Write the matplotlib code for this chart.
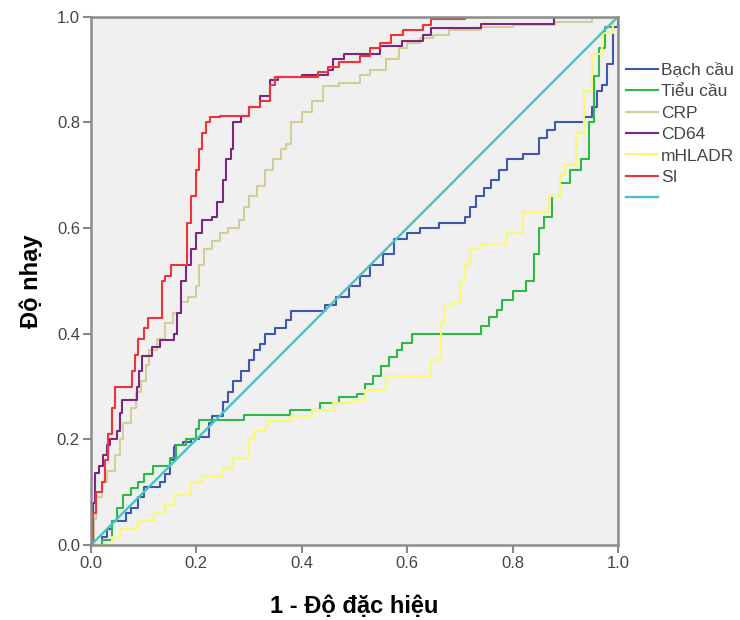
import matplotlib
matplotlib.use("Agg")
import matplotlib.pyplot as plt
from matplotlib.lines import Line2D

plt.rcParams["font.family"] = ["Liberation Sans", "DejaVu Sans"]

# ROC curve vertices (1 - specificity, sensitivity)
bc_x = [0, 0.02, 0.03, 0.04, 0.066, 0.075, 0.09, 0.1, 0.13, 0.14,
        0.15, 0.157, 0.16, 0.175, 0.19, 0.205, 0.223, 0.23, 0.25, 0.26,
        0.27, 0.285, 0.3, 0.31, 0.32, 0.33, 0.35, 0.37, 0.38, 0.445,
        0.465, 0.49, 0.51, 0.53, 0.555, 0.575, 0.6, 0.625, 0.66, 0.71,
        0.72, 0.73, 0.745, 0.76, 0.775, 0.79, 0.82, 0.85, 0.865, 0.88,
        0.935, 0.95, 0.96, 0.97, 0.98, 0.99, 1.0]
bc_y = [0, 0.015, 0.03, 0.045, 0.06, 0.07, 0.09, 0.11, 0.12, 0.135,
        0.16, 0.185, 0.19, 0.195, 0.2, 0.205, 0.23, 0.245, 0.27, 0.29,
        0.31, 0.33, 0.35, 0.37, 0.38, 0.4, 0.41, 0.425, 0.443, 0.455,
        0.47, 0.49, 0.51, 0.53, 0.55, 0.58, 0.59, 0.6, 0.61, 0.62,
        0.64, 0.66, 0.675, 0.69, 0.71, 0.73, 0.74, 0.77, 0.785, 0.8,
        0.81, 0.83, 0.86, 0.87, 0.91, 0.98, 1.0]

tc_x = [0, 0.02, 0.04, 0.05, 0.06, 0.075, 0.09, 0.1, 0.118, 0.15,
        0.162, 0.18, 0.2, 0.205, 0.29, 0.378, 0.435, 0.47, 0.505, 0.52,
        0.535, 0.55, 0.565, 0.58, 0.59, 0.61, 0.74, 0.755, 0.77, 0.78,
        0.8, 0.825, 0.84, 0.85, 0.86, 0.875, 0.89, 0.91, 0.93, 0.945,
        0.955, 0.965, 0.975, 0.99, 1.0]
tc_y = [0, 0.01, 0.045, 0.07, 0.095, 0.107, 0.12, 0.135, 0.15, 0.165,
        0.19, 0.2, 0.22, 0.237, 0.246, 0.255, 0.268, 0.28, 0.285, 0.305,
        0.32, 0.338, 0.355, 0.37, 0.382, 0.4, 0.415, 0.432, 0.445, 0.464,
        0.48, 0.5, 0.55, 0.6, 0.62, 0.66, 0.685, 0.71, 0.73, 0.8,
        0.887, 0.94, 0.98, 1.0, 1.0]

crp_x = [0, 0.005, 0.01, 0.02, 0.03, 0.045, 0.055, 0.06, 0.075, 0.085,
         0.095, 0.105, 0.11, 0.125, 0.14, 0.155, 0.17, 0.185, 0.199, 0.205,
         0.215, 0.23, 0.245, 0.26, 0.28, 0.29, 0.30, 0.315, 0.33, 0.345,
         0.36, 0.37, 0.38, 0.40, 0.42, 0.44, 0.47, 0.51, 0.53, 0.56,
         0.585, 0.60, 0.625, 0.65, 0.68, 0.74, 0.8, 0.88, 0.95, 1.0]
crp_y = [0, 0.05, 0.09, 0.12, 0.14, 0.17, 0.2, 0.23, 0.26, 0.29,
         0.31, 0.34, 0.37, 0.39, 0.42, 0.44, 0.46, 0.47, 0.49, 0.53,
         0.56, 0.575, 0.59, 0.6, 0.615, 0.64, 0.66, 0.68, 0.71, 0.73,
         0.75, 0.76, 0.80, 0.82, 0.84, 0.868, 0.875, 0.89, 0.90, 0.92,
         0.94, 0.95, 0.96, 0.965, 0.975, 0.98, 0.985, 0.99, 1.0, 1.0]

cd64_x = [0, 0.003, 0.007, 0.015, 0.023, 0.03, 0.036, 0.049, 0.055, 0.059,
          0.087, 0.092, 0.097, 0.116, 0.131, 0.157, 0.163, 0.17, 0.18, 0.19,
          0.2, 0.21, 0.23, 0.24, 0.25, 0.257, 0.265, 0.27, 0.285, 0.30,
          0.32, 0.34, 0.355, 0.40, 0.45, 0.46, 0.48, 0.50, 0.548, 0.59,
          0.63, 0.645, 0.74, 0.878, 1.0]
cd64_y = [0, 0.08, 0.136, 0.15, 0.17, 0.19, 0.2, 0.215, 0.25, 0.275,
          0.30, 0.33, 0.357, 0.375, 0.388, 0.40, 0.44, 0.5, 0.53, 0.56,
          0.59, 0.616, 0.62, 0.65, 0.69, 0.73, 0.75, 0.8, 0.813, 0.83,
          0.85, 0.88, 0.885, 0.89, 0.9, 0.92, 0.93, 0.93, 0.945, 0.955,
          0.965, 0.978, 0.987, 1.0, 1.0]

hla_x = [0, 0.04, 0.055, 0.09, 0.12, 0.14, 0.16, 0.19, 0.21, 0.25,
         0.27, 0.3, 0.31, 0.33, 0.335, 0.38, 0.42, 0.46, 0.5, 0.52,
         0.56, 0.59, 0.645, 0.665, 0.67, 0.685, 0.7, 0.71, 0.72, 0.74,
         0.79, 0.82, 0.87, 0.89, 0.9, 0.92, 0.935, 0.95, 0.97, 0.99, 1.0]
hla_y = [0, 0.015, 0.03, 0.045, 0.06, 0.075, 0.095, 0.12, 0.13, 0.145,
         0.165, 0.2, 0.215, 0.225, 0.235, 0.245, 0.255, 0.268, 0.275, 0.293,
         0.319, 0.32, 0.35, 0.42, 0.45, 0.46, 0.5, 0.53, 0.56, 0.57,
         0.59, 0.63, 0.66, 0.7, 0.72, 0.78, 0.86, 0.93, 0.97, 1.0, 1.0]

si_x = [0, 0.004, 0.01, 0.02, 0.027, 0.033, 0.04, 0.046, 0.077, 0.083,
        0.09, 0.1, 0.109, 0.134, 0.14, 0.152, 0.183, 0.19, 0.2, 0.205,
        0.21, 0.218, 0.226, 0.245, 0.30, 0.32, 0.34, 0.35, 0.43, 0.45,
        0.47, 0.51, 0.53, 0.548, 0.57, 0.592, 0.63, 0.645, 0.71, 1.0]
si_y = [0, 0.06, 0.1, 0.12, 0.16, 0.21, 0.26, 0.30, 0.33, 0.36,
        0.39, 0.41, 0.43, 0.50, 0.51, 0.53, 0.61, 0.66, 0.71, 0.75,
        0.78, 0.80, 0.81, 0.813, 0.83, 0.84, 0.87, 0.885, 0.895, 0.905,
        0.915, 0.925, 0.94, 0.95, 0.965, 0.975, 0.985, 0.995, 1.0, 1.0]

ref_x = [0, 1]
ref_y = [0, 1]

series = [
    ("Bạch cầu", bc_x, bc_y, "#3e58ac"),
    ("Tiểu cầu", tc_x, tc_y, "#2eb848"),
    ("CRP", crp_x, crp_y, "#d3ce97"),
    ("CD64", cd64_x, cd64_y, "#7b277d"),
    ("mHLADR", hla_x, hla_y, "#fbf873"),
    ("SI", si_x, si_y, "#ef3338"),
]

fig = plt.figure(figsize=(7.4, 6.2), dpi=100)
ax = fig.add_axes([0.123, 0.121, 0.712, 0.852])
ax.set_facecolor("#f0f0f0")

handles, labels = [], []
for label, xs, ys, col in series:
    ax.plot(xs, ys, color=col, lw=1.5, drawstyle="steps-post")
    handles.append(Line2D([], [], color=col, lw=1.5))
    labels.append(label)
ax.plot(ref_x, ref_y, color="#48c2c5", lw=1.7)
handles.append(Line2D([], [], color="#48c2c5", lw=1.7))
labels.append(" ")

ax.set_xlim(0, 1)
ax.set_ylim(0, 1)
ticks = [0.0, 0.2, 0.4, 0.6, 0.8, 1.0]
ax.set_xticks(ticks)
ax.set_yticks(ticks)
ax.set_xticklabels([f"{t:.1f}" for t in ticks])
ax.set_yticklabels([f"{t:.1f}" for t in ticks])
ax.tick_params(direction="out", length=6, width=1.5, color="#888888",
               labelsize=12, labelcolor="#444444", pad=2)
for sp in ax.spines.values():
    sp.set_color("#8c8c8c")
    sp.set_linewidth(1.8)

ax.set_xlabel("1 - Độ đặc hiệu", fontsize=17, fontweight="bold", labelpad=17)
ax.set_ylabel("Độ nhạy", fontsize=17, fontweight="bold", labelpad=10)

fig.legend(handles, labels, loc="upper left", bbox_to_anchor=(0.836, 0.910),
           frameon=False, fontsize=12.5, handlelength=1.85, handletextpad=0.2,
           labelspacing=0.36, borderaxespad=0, labelcolor="#444444")

fig.savefig("out.png", dpi=100)
